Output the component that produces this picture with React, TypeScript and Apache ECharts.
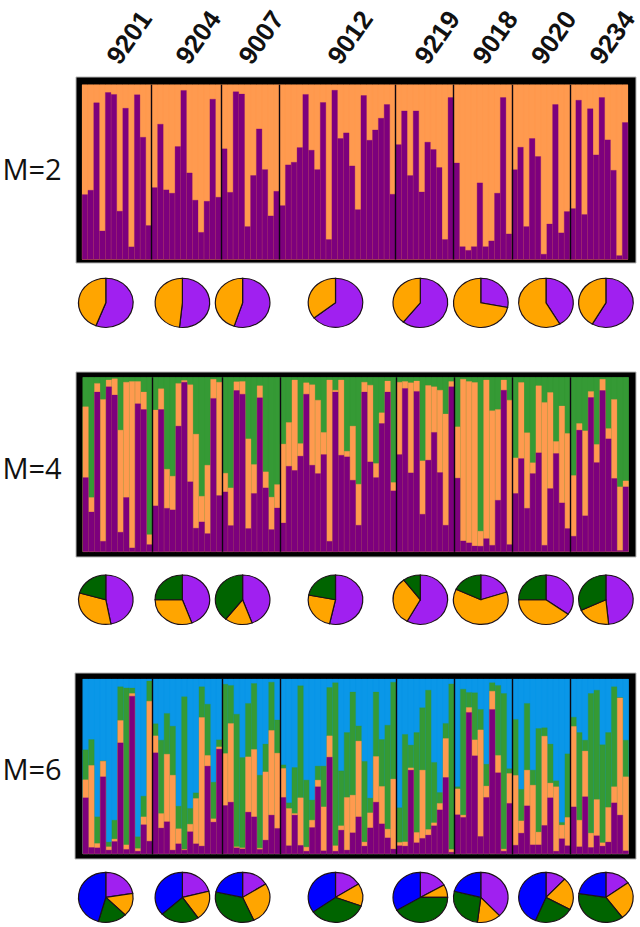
import React, { useEffect, useRef } from "react";
import * as echarts from "echarts";

// Sample sites and how many individuals (bars) each holds
const sites = ["9201", "9204", "9007", "9012", "9219", "9018", "9020", "9234"];
const siteSizes = [12, 12, 10, 20, 10, 10, 10, 10];

// Cumulative tops of each ancestry layer per individual, percent
const m2Purple = [
  37.2, 39.7, 89.7, 16.4, 95.6, 94.5, 27.7, 86.6, 7.3, 94.3, 70.0, 19.5,
  41.2, 77.5, 39.9, 38.0, 64.7, 96.8, 49.6, 34.0, 15.6, 33.4, 91.8, 35.7,
  63.4, 38.5, 96.0, 94.7, 18.9, 48.1, 74.8, 51.5, 25.0, 39.1,
  30.9, 54.2, 55.7, 64.1, 94.5, 62.6, 51.5, 89.9, 11.5, 96.9, 69.3, 72.5, 53.6, 28.6, 93.9, 68.3, 74.2, 80.9, 88.7, 37.4,
  65.8, 85.1, 48.1, 85.1, 38.7, 67.2, 63.0, 52.7, 11.5, 92.7,
  55.3, 7.4, 5.3, 7.4, 43.9, 7.4, 10.7, 38.0, 92.7, 14.7,
  51.5, 64.3, 18.9, 69.3, 59.0, 3.1, 20.4, 88.7, 15.3, 27.5,
  29.2, 91.2, 25.8, 86.3, 59.9, 92.7, 68.5, 51.1, 2.3, 78.4,
];

const m4Purple = [
  42.6, 22.9, 91.6, 6.1, 94.6, 89.9, 11.3, 31.2, 2.3, 84.9, 81.6, 4.2,
  26.4, 81.6, 25.0, 24.1, 72.1, 97.3, 40.2, 13.6, 17.2, 10.5, 88.0, 32.3,
  34.4, 15.1, 92.5, 90.4, 13.4, 33.5, 88.3, 36.7, 12.8, 25.2,
  16.6, 49.1, 46.7, 54.9, 90.4, 49.7, 44.9, 55.8, 6.1, 91.6, 55.4, 54.5, 41.1, 15.3, 91.6, 51.6, 42.6, 73.6, 91.6, 35.0,
  55.8, 93.7, 45.3, 92.0, 21.6, 52.6, 68.5, 45.5, 15.3, 94.6,
  42.3, 6.3, 5.2, 3.4, 3.3, 7.6, 3.8, 29.6, 92.7, 4.2,
  33.5, 53.5, 25.0, 44.9, 56.8, 3.8, 36.3, 56.4, 28.1, 13.4,
  9.0, 69.8, 20.7, 88.5, 51.2, 92.5, 64.8, 42.1, 0.8, 37.3,
];
const m4Orange = [
  83.2, 31.2, 96.6, 87.4, 98.5, 99.2, 69.8, 97.3, 97.7, 97.7, 91.6, 9.9,
  81.3, 93.5, 47.4, 43.4, 96.6, 98.3, 95.8, 67.5, 31.9, 49.7, 98.9, 97.3,
  45.1, 36.7, 97.5, 97.7, 64.8, 50.1, 95.2, 45.9, 31.4, 38.6,
  61.8, 74.2, 98.5, 62.1, 96.9, 95.8, 87.0, 68.5, 98.5, 92.7, 98.5, 57.7, 72.1, 38.8, 97.3, 95.6, 50.7, 79.7, 97.9, 39.8,
  97.3, 97.7, 96.9, 97.9, 52.2, 95.4, 94.6, 92.7, 79.0, 97.7,
  71.7, 99.0, 97.7, 97.1, 11.9, 98.5, 80.9, 81.6, 98.5, 87.0,
  53.9, 97.1, 68.3, 51.1, 95.2, 85.7, 91.4, 63.3, 83.6, 67.9,
  43.8, 73.6, 69.4, 92.0, 61.6, 98.9, 70.7, 87.4, 37.3, 40.7,
];

const m6Purple = [
  32.2, 3.8, 3.6, 44.2, 2.3, 7.2, 63.6, 2.7, 90.3, 1.7, 16.8, 7.4,
  57.9, 14.9, 18.5, 2.3, 5.9, 2.3, 12.8, 5.9, 4.6, 50.3, 18.3, 60.0,
  27.8, 29.7, 3.6, 3.0, 24.0, 21.3, 2.7, 8.0, 22.3, 14.7,
  32.4, 4.8, 22.3, 5.0, 1.7, 15.2, 38.5, 1.9, 55.4, 1.7, 13.7, 2.3, 12.2, 21.3, 4.6, 15.0, 29.7, 17.3, 9.3, 2.9,
  4.8, 4.6, 48.0, 6.5, 9.0, 10.9, 16.2, 25.3, 43.8, 1.1,
  22.5, 21.0, 81.0, 56.2, 10.1, 32.4, 82.7, 46.5, 1.7, 29.0,
  5.1, 12.0, 27.6, 5.3, 5.3, 16.4, 32.2, 1.7, 8.8, 4.8,
  27.0, 4.2, 32.8, 3.8, 10.5, 4.6, 6.9, 29.3, 22.3, 1.9,
];
const m6Orange = [
  42.5, 50.7, 6.1, 53.1, 4.2, 8.6, 76.4, 5.3, 91.8, 3.2, 21.3, 87.4,
  67.6, 23.2, 57.1, 45.1, 14.5, 2.7, 17.1, 31.8, 78.1, 56.4, 20.2, 61.3,
  57.5, 74.7, 4.2, 3.6, 55.6, 59.8, 3.4, 47.0, 70.7, 57.7,
  49.0, 26.1, 23.2, 32.2, 4.0, 19.4, 42.3, 27.0, 67.6, 4.8, 16.2, 32.4, 33.7, 64.6, 6.9, 23.6, 55.8, 38.7, 14.3, 42.9,
  6.7, 7.0, 49.3, 12.4, 48.0, 14.1, 17.9, 29.0, 66.1, 2.7,
  37.3, 22.3, 83.8, 65.3, 71.0, 38.9, 93.1, 56.4, 2.9, 46.1,
  45.0, 19.0, 48.0, 39.4, 12.6, 67.4, 40.6, 38.5, 16.6, 21.0,
  73.0, 19.4, 58.9, 12.0, 31.2, 6.5, 26.7, 38.5, 89.3, 44.2,
];
const m6Green = [
  59.6, 65.5, 21.3, 53.3, 6.9, 19.4, 95.6, 95.0, 94.9, 9.9, 33.1, 98.9,
  74.5, 65.1, 80.4, 73.1, 27.4, 89.9, 26.1, 35.0, 95.6, 85.7, 41.1, 65.3,
  97.1, 96.4, 80.0, 55.2, 86.1, 97.5, 45.1, 62.9, 98.3, 76.6,
  51.0, 29.3, 49.5, 96.2, 42.3, 30.9, 50.3, 50.3, 95.2, 97.9, 47.6, 69.5, 92.6, 73.3, 53.0, 32.0, 92.6, 65.5, 73.7, 98.3,
  26.5, 68.4, 62.3, 69.5, 83.6, 93.7, 52.4, 35.2, 74.7, 97.3,
  38.5, 94.3, 92.4, 92.2, 82.7, 51.4, 97.9, 96.4, 91.8, 48.8,
  77.0, 37.0, 86.1, 48.0, 71.8, 72.2, 62.9, 41.9, 18.1, 57.3,
  78.3, 69.5, 65.1, 91.8, 93.7, 62.5, 69.5, 95.6, 89.5, 65.1,
];
const fullTop = m2Purple.map(() => 100);

// Site mean shares, percent, clockwise from 12 o'clock
const pieM2Purple = [55.9, 51.7, 55, 64.4, 60.7, 28, 41.6, 58.3];
const pieM2Orange = [44.1, 48.3, 45, 35.6, 39.3, 72, 58.4, 41.7];

const pieM4Purple = [47, 44.4, 44.4, 53.5, 58, 20, 35, 48.4];
const pieM4Orange = [32.4, 30.6, 16.2, 24.5, 31.7, 62, 40, 19.6];
const pieM4Green = [20.6, 25, 39.4, 22, 10.3, 18, 25, 32];

const pieM6Purple = [22.4, 21, 16, 16, 16.7, 38, 12, 15];
const pieM6Orange = [15, 19.3, 27.3, 14.6, 8.3, 14, 21, 24.8];
const pieM6Green = [17, 23, 35.2, 34.6, 41.5, 27, 23.3, 37.7];
const pieM6Blue = [45.6, 36.7, 21.5, 34.8, 33.5, 21, 43.7, 22.5];

// Colours
const BAR = { purple: "#7d007d", orange: "#ff9a4f", green: "#359a35", blue: "#0a97e8" };
const PIE = { purple: "#a020f0", orange: "#ffa500", green: "#006400", blue: "#0000ff" };

const panels = [
  {
    label: "M=2",
    frame: { x: 76, y: 77, w: 560, h: 186 },
    inner: { x: 82, y: 84.7, w: 546, h: 174.8 },
    labelY: 168,
    layers: [
      { name: "Orange", color: BAR.orange, data: fullTop },
      { name: "Purple", color: BAR.purple, data: m2Purple },
    ],
    pieY: 302.8,
    pieRy: 24.6,
    pies: [
      { color: PIE.purple, data: pieM2Purple },
      { color: PIE.orange, data: pieM2Orange },
    ],
  },
  {
    label: "M=4",
    frame: { x: 76, y: 372, w: 560, h: 185 },
    inner: { x: 82.7, y: 377.3, w: 546, h: 174.5 },
    labelY: 467,
    layers: [
      { name: "Green", color: BAR.green, data: fullTop },
      { name: "Orange", color: BAR.orange, data: m4Orange },
      { name: "Purple", color: BAR.purple, data: m4Purple },
    ],
    pieY: 599.7,
    pieRy: 24.7,
    pies: [
      { color: PIE.purple, data: pieM4Purple },
      { color: PIE.orange, data: pieM4Orange },
      { color: PIE.green, data: pieM4Green },
    ],
  },
  {
    label: "M=6",
    frame: { x: 75, y: 673, w: 561, h: 186 },
    inner: { x: 82.7, y: 679, w: 546, h: 175 },
    labelY: 768,
    layers: [
      { name: "Blue", color: BAR.blue, data: fullTop },
      { name: "Green", color: BAR.green, data: m6Green },
      { name: "Orange", color: BAR.orange, data: m6Orange },
      { name: "Purple", color: BAR.purple, data: m6Purple },
    ],
    pieY: 897.4,
    pieRy: 25,
    pies: [
      { color: PIE.purple, data: pieM6Purple },
      { color: PIE.orange, data: pieM6Orange },
      { color: PIE.green, data: pieM6Green },
      { color: PIE.blue, data: pieM6Blue },
    ],
  },
];

const pieCentersX = [105.8, 182.4, 242.6, 335.5, 420.3, 480.8, 546, 605.9];
const siteLabelX = [129, 198, 261, 350, 437, 495, 553.6, 612];

function buildOption() {
  const boundaries: number[] = [];
  siteSizes.slice(0, -1).reduce((sum, n) => {
    boundaries.push(sum + n);
    return sum + n;
  }, 0);
  const categories = fullTop.map((_, i) => String(i + 1));

  const grid: any[] = [];
  const xAxis: any[] = [];
  const yAxis: any[] = [];
  const series: any[] = [];
  const graphic: any[] = [];

  panels.forEach((p, pi) => {
    grid.push({ left: p.inner.x, top: p.inner.y, width: p.inner.w, height: p.inner.h, show: false });
    xAxis.push({ type: "category", gridIndex: pi, data: categories, show: false, boundaryGap: true });
    xAxis.push({ type: "value", gridIndex: pi, min: 0, max: fullTop.length, show: false });
    yAxis.push({ type: "value", gridIndex: pi, min: 0, max: 100, show: false });

    p.layers.forEach((l) => {
      series.push({
        type: "bar",
        name: `${p.label} ${l.name}`,
        xAxisIndex: pi * 2,
        yAxisIndex: pi,
        data: l.data,
        barWidth: "100%",
        barGap: "-100%",
        itemStyle: { color: l.color, borderColor: l.color, borderWidth: 0.3 },
        silent: true,
      });
    });
    series.push({
      type: "line",
      name: `${p.label} sites`,
      xAxisIndex: pi * 2 + 1,
      yAxisIndex: pi,
      data: [[0, 0]],
      showSymbol: false,
      lineStyle: { width: 0 },
      silent: true,
      z: 5,
      markLine: {
        silent: true,
        symbol: "none",
        label: { show: false },
        lineStyle: { color: "#0c0610", width: 1.4, type: "solid" },
        data: boundaries.map((b) => ({ xAxis: b })),
      },
    });

    // slices of this panel's pies
    const slices: any[] = [];
    pieCentersX.forEach((cx, k) => {
      let start = 0;
      p.pies.forEach((layer) => {
        const v = layer.data[k];
        slices.push({ value: [cx, start, start + v], color: layer.color });
        start += v;
      });
    });
    series.push({
      type: "custom",
      name: `${p.label} pies`,
      coordinateSystem: "none",
      silent: true,
      data: slices,
      renderItem: (params: any, api: any) => {
        const d = slices[params.dataIndex];
        const a0 = -Math.PI / 2 + (api.value(1) / 100) * Math.PI * 2;
        const a1 = -Math.PI / 2 + (api.value(2) / 100) * Math.PI * 2;
        return {
          type: "sector",
          x: api.value(0),
          y: p.pieY,
          scaleX: 1,
          scaleY: p.pieRy / 27.3,
          shape: { cx: 0, cy: 0, r0: 0, r: 27.3, startAngle: a0, endAngle: a1, clockwise: true },
          style: { fill: d.color, stroke: "#1c1018", lineWidth: 1.2 },
        };
      },
    });

    graphic.push({
      type: "rect",
      z: -10,
      shape: { x: p.frame.x, y: p.frame.y, width: p.frame.w, height: p.frame.h },
      style: { fill: "#000", stroke: "#b8b8b8", lineWidth: 1 },
    });
    graphic.push({
      type: "rect",
      z: -5,
      shape: { x: p.inner.x, y: p.inner.y, width: p.inner.w, height: p.inner.h },
      style: { fill: p.layers[0].color },
    });
    graphic.push({
      type: "text",
      x: 32,
      y: p.labelY,
      style: {
        text: p.label,
        fill: "#111",
        font: '29px "Open Sans"',
        align: "center",
        verticalAlign: "middle",
      },
    });
  });

  sites.forEach((s, i) => {
    graphic.push({
      type: "text",
      x: siteLabelX[i],
      y: 37.5,
      rotation: (55 * Math.PI) / 180,
      style: {
        text: s,
        fill: "#111",
        font: 'bold 26px "Liberation Sans"',
        align: "center",
        verticalAlign: "middle",
      },
    });
  });

  return { animation: false, backgroundColor: "#fff", grid, xAxis, yAxis, series, graphic };
}

export default function App() {
  const ref = useRef<HTMLDivElement>(null);
  useEffect(() => {
    if (!ref.current) return;
    const chart = echarts.init(ref.current, undefined, { renderer: "svg" });
    chart.setOption(buildOption());
    return () => chart.dispose();
  }, []);
  return <div ref={ref} style={{ position: "absolute", left: 0, top: 0, width: 640, height: 927 }} />;
}
